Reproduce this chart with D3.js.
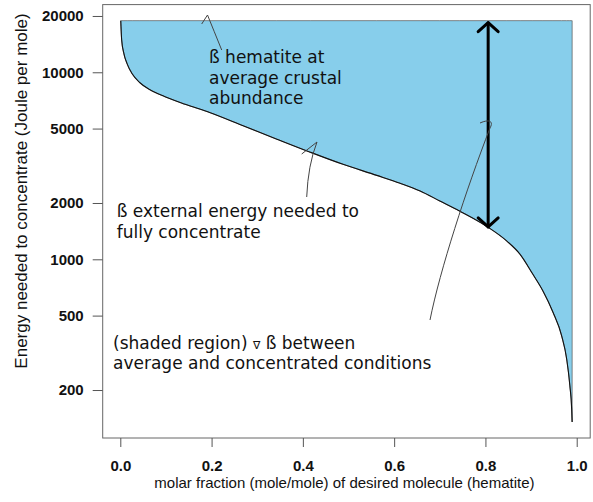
<!DOCTYPE html>
<html>
<head>
<meta charset="utf-8">
<script src="https://cdn.jsdelivr.net/npm/d3@7"></script>
<style>
	body { margin: 0; background: #fff; }
	svg { display: block; }
	.tick text { font-family: "Liberation Sans", Arial, sans-serif; font-size: 15px; font-weight: bold; fill: #111; }
	.tick line { stroke: #555; }
	.axis-title { font-family: "Liberation Sans", Arial, sans-serif; fill: #111; }
	.note { font-family: "DejaVu Sans", Verdana, sans-serif; font-size: 17px; fill: #111; }
	.leader { fill: none; stroke: #444; stroke-width: 1; }
</style>
</head>
<body>
<div id="chart"></div>
<script>
// molar fraction of hematite (x) and energy to concentrate in J/mol (y)
var fraction = [0.001, 0.003, 0.008, 0.015, 0.026, 0.043, 0.065, 0.098, 0.142, 0.197,
	0.269, 0.343, 0.416, 0.488, 0.562, 0.613, 0.657, 0.700, 0.744, 0.803,
	0.847, 0.876, 0.904, 0.926, 0.948, 0.967, 0.978, 0.985, 0.989, 0.990];
var energy = [18880, 14890, 12540, 11090, 9810, 8790, 8060, 7400, 6745, 6080,
	5180, 4390, 3740, 3220, 2810, 2550, 2317, 2050, 1808, 1499,
	1251, 1063, 831, 677, 521, 390, 293, 211, 158, 135];

var xTicks = [0, 0.2, 0.4, 0.6, 0.8, 1.0];
var yTicks = [200, 500, 1000, 2000, 5000, 10000, 20000];

var xTitle = "molar fraction (mole/mole) of desired molecule (hematite)";
var yTitle = "Energy needed to concentrate (Joule per mole)";

// the double arrow at x = 0.8 between the curve and the top of the shaded region
var arrowAt = 0.806, arrowLow = 1490;

var width = 593, height = 502;
var box = {left: 102.7, right: 590.2, top: 4.6, bottom: 438};

var svg = d3.select("#chart").append("svg")
	.attr("width", width)
	.attr("height", height);

var points = fraction.map(function(f, i){ return {x: f, y: energy[i]}; });
var maxE = d3.max(energy), minE = d3.min(energy);

// R style 4% padding round the data range
var xMin = d3.min(fraction), xMax = d3.max(fraction), xPad = (xMax - xMin) * 0.04;
var xScale = d3.scaleLinear()
	.domain([xMin - xPad, xMax + xPad])
	.range([box.left, box.right]);

var lMin = Math.log10(minE), lMax = Math.log10(maxE), lPad = (lMax - lMin) * 0.04;
var yScale = d3.scaleLog()
	.domain([Math.pow(10, lMin - lPad), Math.pow(10, lMax + lPad)])
	.range([box.bottom, box.top]);

//Shaded region between the curve and its top value
var area = d3.area()
	.x(function(d){ return xScale(d.x); })
	.y0(function(){ return yScale(maxE); })
	.y1(function(d){ return yScale(d.y); })
	.curve(d3.curveMonotoneX);

svg.append("path")
	.datum(points)
	.attr("d", area)
	.attr("fill", "#87CEEB")
	.attr("stroke", "#555")
	.attr("stroke-width", 0.7);

var line = d3.line()
	.x(function(d){ return xScale(d.x); })
	.y(function(d){ return yScale(d.y); })
	.curve(d3.curveMonotoneX);

svg.append("path")
	.datum(points)
	.attr("d", line)
	.attr("fill", "none")
	.attr("stroke", "#111")
	.attr("stroke-width", 1.1);

//Box
svg.append("rect")
	.attr("x", box.left)
	.attr("y", box.top)
	.attr("width", box.right - box.left)
	.attr("height", box.bottom - box.top)
	.attr("fill", "none")
	.attr("stroke", "#666")
	.attr("stroke-width", 1);

//Axes
var yAxis = d3.axisLeft(yScale)
	.tickValues(yTicks)
	.tickFormat(d3.format("d"))
	.tickSize(10)
	.tickPadding(9);

svg.append("g")
	.attr("transform", "translate(" + box.left + ",0)")
	.call(yAxis)
	.call(function(g){ g.select(".domain").remove(); });

var xAxis = d3.axisBottom(xScale)
	.tickValues(xTicks)
	.tickFormat(d3.format(".1f"))
	.tickSize(9)
	.tickPadding(13);

svg.append("g")
	.attr("transform", "translate(0," + box.bottom + ")")
	.call(xAxis)
	.call(function(g){ g.select(".domain").remove(); });

svg.append("text")
	.attr("class", "axis-title")
	.attr("text-anchor", "middle")
	.attr("font-size", 15)
	.attr("x", (box.left + box.right) / 2 - 2)
	.attr("y", 488)
	.text(xTitle);

svg.append("text")
	.attr("class", "axis-title")
	.attr("text-anchor", "middle")
	.attr("font-size", 17)
	.attr("transform", "translate(27," + 191 + ")rotate(-90)")
	.text(yTitle);

//Double arrow
var ax = xScale(arrowAt),
	aTop = yScale(maxE) + 2,
	aBot = yScale(arrowLow);
var arrow = svg.append("g")
	.attr("stroke", "#000")
	.attr("stroke-width", 3)
	.attr("fill", "none")
	.attr("stroke-linecap", "round")
	.attr("stroke-linejoin", "round");
arrow.append("line").attr("x1", ax).attr("x2", ax).attr("y1", aTop).attr("y2", aBot);
arrow.append("path").attr("d", "M" + (ax - 10) + "," + (aTop + 9) + "L" + ax + "," + aTop + "L" + (ax + 10) + "," + (aTop + 9));
arrow.append("path").attr("d", "M" + (ax - 10) + "," + (aBot - 9) + "L" + ax + "," + aBot + "L" + (ax + 10) + "," + (aBot - 9));

//Leader lines
svg.append("path").attr("class", "leader")
	.attr("d", "M221.7,50Q214,31 207.5,15L201.7,24");
svg.append("path").attr("class", "leader")
	.attr("d", "M306.7,197Q308,165 317,142L301.7,154");
svg.append("path").attr("class", "leader")
	.attr("d", "M430,320C440,270 466,190 490,128C494,121 489,119 480,123");

//Notes
function note(x, y, lines){
	var t = svg.append("text").attr("class", "note");
	lines.forEach(function(l, i){
		var ts = t.append("tspan").attr("x", x).attr("y", y + i * 20.5);
		if (typeof l === "string"){
			ts.text(l);
		} else {
			l.forEach(function(part){
				var p = ts.append("tspan").text(part.t);
				if (part.size) p.attr("font-size", part.size);
			});
		}
	});
}

note(209, 63, ["ß hematite at", "average crustal", "abundance"]);
note(116.7, 217, ["ß external energy needed to", "fully concentrate"]);
note(113, 348.5, [
	[{t: "(shaded region) "}, {t: "∇", size: 11}, {t: " ß between"}],
	"average and concentrated conditions"
]);
</script>
</body>
</html>
